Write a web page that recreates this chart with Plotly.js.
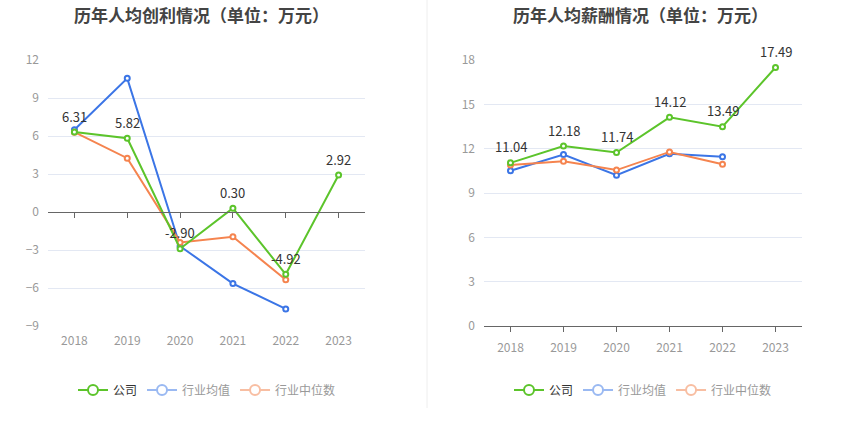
<!DOCTYPE html>
<html><head><meta charset="utf-8">
<script src="https://cdn.plot.ly/plotly-3.0.1.min.js"></script>
<style>html,body{margin:0;padding:0;background:#fff}#c{width:850px;height:438px}</style>
</head><body><div id="c"></div>
<script>
const years = ['2018','2019','2020','2021','2022','2023'];
const yearsInd = ['2018','2019','2020','2021','2022'];
const profitCompany = [6.31, 5.82, -2.90, 0.30, -4.92, 2.92];
const profitMean = [6.5, 10.55, -2.7, -5.65, -7.65];
const profitMedian = [6.3, 4.25, -2.4, -1.95, -5.35];
const salaryCompany = [11.04, 12.18, 11.74, 14.12, 13.49, 17.49];
const salaryMean = [10.5, 11.6, 10.2, 11.65, 11.45];
const salaryMedian = [10.9, 11.15, 10.55, 11.78, 10.95];
const names = ['公司', '行业均值', '行业中位数'];

const GREEN = '#5cc42b', BLUE = '#3b75e6', ORANGE = '#f5844f';
const F = '"Noto Sans CJK SC", "Noto Sans", sans-serif';

function line(x, y, color, xa, ya) {
  return {
    type: 'scatter', mode: 'lines+markers',
    x: x, y: y, xaxis: xa, yaxis: ya, showlegend: false, cliponaxis: false,
    line: {color: color, width: 2},
    marker: {symbol: 'circle', size: 5, color: '#fff', line: {color: color, width: 2}},
    hoverinfo: 'x+y'
  };
}
function labels(x, y, xa, ya) {
  return y.map((v, i) => ({
    text: v.toFixed(2), x: years.indexOf(x[i]), y: v, xref: xa, yref: ya, showarrow: false,
    xanchor: 'center', yanchor: 'middle', yshift: 16,
    font: {family: F, size: 13, color: '#333'}
  }));
}
function legItem(name, color, textColor, leg) {
  return {
    type: 'scatter', mode: 'lines+markers', x: [null], y: [null], name: '<span style="color:' + textColor + '">' + name + '</span>',
    legend: leg, showlegend: true, xaxis: leg === 'legend' ? 'x' : 'x2', yaxis: leg === 'legend' ? 'y' : 'y2',
    line: {color: color, width: 2},
    marker: {symbol: 'circle', size: 10, color: '#fff', line: {color: color, width: 2}}
  };
}

const data = [
  line(yearsInd, profitMean, BLUE, 'x', 'y'),
  line(yearsInd, profitMedian, ORANGE, 'x', 'y'),
  line(years, profitCompany, GREEN, 'x', 'y'),
  line(yearsInd, salaryMean, BLUE, 'x2', 'y2'),
  line(yearsInd, salaryMedian, ORANGE, 'x2', 'y2'),
  line(years, salaryCompany, GREEN, 'x2', 'y2'),
  legItem(names[0], GREEN, '#333', 'legend'),
  legItem(names[1], '#9ab9f2', '#999', 'legend'),
  legItem(names[2], '#f8bea2', '#999', 'legend'),
  legItem(names[0], GREEN, '#333', 'legend2'),
  legItem(names[1], '#9ab9f2', '#999', 'legend2'),
  legItem(names[2], '#f8bea2', '#999', 'legend2')
];

const ydom = [1 - 326/438, 1 - 60/438];
const tickF = {family: F, size: 12, color: '#999'};
const xBase = {
  type: 'category', categoryarray: years, categoryorder: 'array', range: [-0.5, 5.5],
  showgrid: false, zeroline: false, tickfont: tickF, ticklabelstandoff: 6, fixedrange: true
};
const yBase = {
  showgrid: true, gridcolor: '#e3e8f3', gridwidth: 1, tickfont: tickF, dtick: 3,
  ticks: '', ticklabelstandoff: 8, showline: false, fixedrange: true
};
const zeroPos = ydom[0] + (9/21) * (ydom[1] - ydom[0]);

const titleAnn = [
  {text: '<b>历年人均创利情况（单位：万元）</b>', xref: 'paper', yref: 'paper', x: 201/850, y: 1 - 14/438,
   xanchor: 'center', yanchor: 'middle', showarrow: false, font: {family: F, size: 17, color: '#444'}},
  {text: '<b>历年人均薪酬情况（单位：万元）</b>', xref: 'paper', yref: 'paper', x: 640/850, y: 1 - 14/438,
   xanchor: 'center', yanchor: 'middle', showarrow: false, font: {family: F, size: 17, color: '#444'}}
];

const layout = {
  width: 850, height: 438, margin: {l: 0, r: 0, t: 0, b: 0},
  paper_bgcolor: '#fff', plot_bgcolor: 'rgba(0,0,0,0)',
  font: {family: F},
  xaxis: Object.assign({}, xBase, {domain: [48/850, 365/850], anchor: 'y', showline: false, ticks: ''}),
  yaxis: Object.assign({}, yBase, {domain: ydom, range: [-9, 12], anchor: 'x', zeroline: true, zerolinecolor: '#666', zerolinewidth: 1, tickvals: [-9,-6,-3,0,3,6,9,12]}),
  xaxis3: Object.assign({}, xBase, {overlaying: 'x', matches: 'x', anchor: 'free', position: zeroPos, side: 'bottom',
    showline: true, linecolor: '#666', linewidth: 1, ticks: 'outside', ticklen: 5, tickcolor: '#666', showticklabels: false}),
  xaxis2: Object.assign({}, xBase, {domain: [484/850, 802/850], anchor: 'y2', showline: true, linecolor: '#666', linewidth: 1, ticks: 'outside', ticklen: 5, tickcolor: '#666'}),
  yaxis2: Object.assign({}, yBase, {domain: ydom, range: [0, 18], anchor: 'x2', zeroline: false, tickvals: [0,3,6,9,12,15,18]}),
  legend: {orientation: 'h', x: 207/850, xanchor: 'center', y: 1 - 390/438, yanchor: 'middle',
    font: {family: F, size: 12, color: '#333'}, bgcolor: 'rgba(0,0,0,0)', itemwidth: 30, tracegroupgap: 0},
  legend2: {orientation: 'h', x: 643/850, xanchor: 'center', y: 1 - 390/438, yanchor: 'middle',
    font: {family: F, size: 12, color: '#333'}, bgcolor: 'rgba(0,0,0,0)', itemwidth: 30, tracegroupgap: 0},
  annotations: titleAnn.concat(labels(years, profitCompany, 'x', 'y'), labels(years, salaryCompany, 'x2', 'y2')),
  shapes: [
    {type: 'line', xref: 'paper', yref: 'paper', x0: 427/850, x1: 427/850, y0: 1 - 408/438, y1: 1,
     line: {color: '#eeeeee', width: 1}}
  ]
};
data.push({type: 'scatter', mode: 'none', x: [years[0]], y: [0], xaxis: 'x3', yaxis: 'y', showlegend: false, hoverinfo: 'skip'});

Plotly.newPlot('c', data, layout, {displayModeBar: false, staticPlot: true});
</script></body></html>
